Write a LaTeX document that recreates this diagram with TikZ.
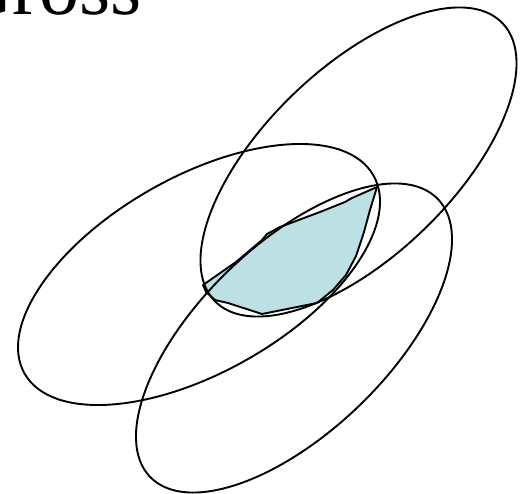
\documentclass[tikz,border=0pt]{standalone}
\usepackage{fontspec}
\setmainfont{Liberation Serif}
\usepackage{xcolor}
\usepackage{tikz}
\definecolor{patchblue}{RGB}{188,224,228}

\begin{document}
\begin{tikzpicture}[
  x=1pt,y=1pt,
  ring/.style={draw, line width=1.9pt},
  patch/.style={draw, line width=1.9pt, fill=patchblue, line join=round},
  heading/.style={font=\fontsize{80}{90}\selectfont, inner sep=0pt, anchor=base west}
]
\useasboundingbox (0,0) rectangle (521,-494);
\clip (0,0) rectangle (521,-494);
\node[heading] (title) at (-45,-14.5) {Gross};
\draw[patch] (377,-187) -- (352,-198) -- (345,-202) -- (320,-212) -- (280,-227)
  -- (267,-234) -- (262,-240) -- (236,-262) -- (203,-285) -- (206,-292)
  -- (215,-300) -- (228,-303) -- (262,-314) -- (317,-303) -- (333,-290)
  -- (346,-275) -- (356,-256) -- (364,-232) -- (370,-210) -- cycle;
\draw[ring, rotate around={44:(358.5,-162)}] (358.5,-162) ellipse [x radius=200, y radius=94];
\draw[ring, rotate around={29.6:(199,-274.5)}] (199,-274.5) ellipse [x radius=200.6, y radius=97.7];
\draw[ring, rotate around={44:(294,-338)}] (294,-338) ellipse [x radius=200, y radius=94];
\end{tikzpicture}
\end{document}
